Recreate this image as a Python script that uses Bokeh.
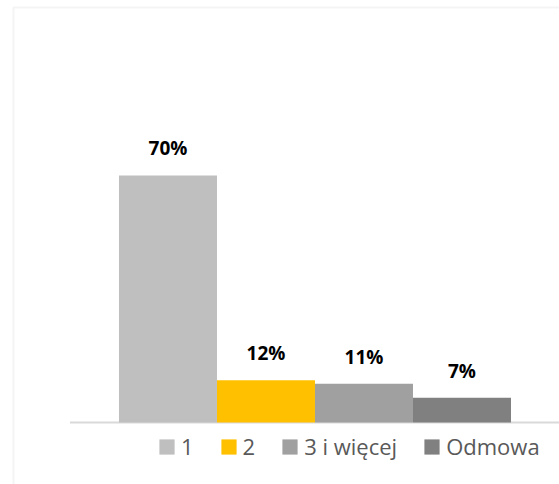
from bokeh.plotting import figure
from bokeh.models import (ColumnDataSource, Range1d, LabelSet, Legend, LegendItem, BoxAnnotation)
from bokeh.core.properties import value
from bokeh.embed import file_html
from bokeh.resources import INLINE

# data
categories = ["1", "2", "3 i więcej", "Odmowa"]
values = [70, 12, 11, 7]
labels = ["70%", "12%", "11%", "7%"]
colors = ["#BFBFBF", "#FFC000", "#A0A0A0", "#808080"]

xpos = list(range(len(categories)))
source = ColumnDataSource(dict(x=xpos, cat=categories, val=values, lab=labels, col=colors))

p = figure(width=559, height=484, output_backend="svg", toolbar_location=None,
           x_range=Range1d(-1.709, 3.995), y_range=Range1d(-17.57, 119.58),
           min_border=0)
p.outline_line_color = None
p.xgrid.grid_line_color = None
p.ygrid.grid_line_color = None
p.xaxis.visible = False
p.yaxis.visible = False
p.background_fill_color = "white"
p.border_fill_color = "white"

# chart-area border (screen y measured from the bottom)
p.add_layout(BoxAnnotation(left=13, right=900, top=477, bottom=-400,
                           left_units="screen", right_units="screen",
                           top_units="screen", bottom_units="screen",
                           fill_alpha=0, line_color="#D9D9D9", line_width=2, level="underlay"))

# category axis baseline
p.segment(x0=[xpos[0] - 1.0], y0=[0], x1=[p.x_range.end], y1=[0],
          line_color="#D9D9D9", line_width=2)

renderers = []
for i, c in enumerate(categories):
    sub = ColumnDataSource(dict(x=[xpos[i]], val=[values[i]]))
    r = p.vbar(x="x", top="val", width=1.0, source=sub, fill_color=colors[i], line_color=None)
    renderers.append(r)

p.add_layout(LabelSet(x="x", y="val", text="lab", source=source, text_align="center",
                      text_baseline="alphabetic", y_offset=20,
                      text_font=value("Open Sans"), text_font_style="bold",
                      text_font_size="19px", text_color="#000000"))

legend = Legend(items=[LegendItem(label=c, renderers=[r]) for c, r in zip(categories, renderers)],
                orientation="horizontal", location=(157, 23),
                glyph_width=19, glyph_height=19, label_standoff=5, spacing=25,
                label_width=5, label_height=19,
                label_text_font="Open Sans", label_text_font_size="22px",
                label_text_color="#595959",
                padding=0, margin=0, border_line_color=None, background_fill_alpha=0)
p.add_layout(legend, "center")

open("out.html", "w").write(file_html(p, INLINE))
